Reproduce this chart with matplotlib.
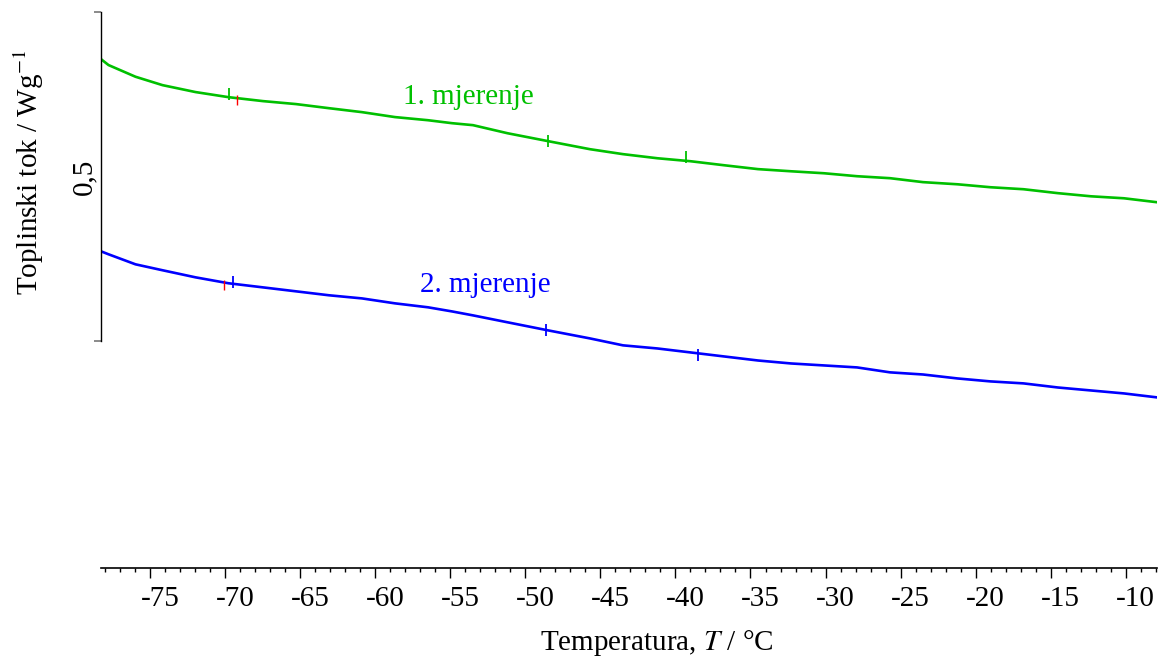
import matplotlib
matplotlib.use("Agg")
import matplotlib.pyplot as plt
from matplotlib.ticker import MultipleLocator, FuncFormatter
import matplotlib.transforms as mtransforms

plt.rcParams['font.family'] = ['Liberation Serif', 'DejaVu Serif']
plt.rcParams['mathtext.fontset'] = 'stix'
plt.rcParams['axes.unicode_minus'] = False

# temperatura / °C
temp = [-78.3, -77.8, -76.0, -74.2, -72.0, -69.8, -67.5, -65.3, -63.1, -60.9,
        -58.7, -56.5, -54.9, -53.5, -51.2, -48.5, -45.7, -43.5, -41.2, -39.0,
        -36.8, -34.5, -32.3, -30.1, -27.9, -25.7, -23.5, -21.2, -19.0, -16.8,
        -14.5, -12.3, -10.1, -7.9]
# toplinski tok / W g^-1
mjerenje1 = [0.5714, 0.5678, 0.5607, 0.5556, 0.5514, 0.5483, 0.5459, 0.5441, 0.5416, 0.5392,
             0.5362, 0.5343, 0.5325, 0.5313, 0.5264, 0.5216, 0.5167, 0.5137, 0.5112, 0.5094,
             0.5070, 0.5046, 0.5033, 0.5021, 0.5003, 0.4991, 0.4967, 0.4954, 0.4936, 0.4924,
             0.4900, 0.4881, 0.4869, 0.4845]
mjerenje2 = [0.4547, 0.4529, 0.4468, 0.4432, 0.4389, 0.4353, 0.4328, 0.4304, 0.4280, 0.4261,
             0.4231, 0.4207, 0.4182, 0.4158, 0.4116, 0.4067, 0.4018, 0.3976, 0.3957, 0.3933,
             0.3909, 0.3884, 0.3866, 0.3854, 0.3842, 0.3812, 0.3799, 0.3775, 0.3757, 0.3745,
             0.3720, 0.3702, 0.3684, 0.3660]

# oznake evaluacije na krivuljama (T, tok)
oznake1 = [(-69.8, 0.5500), (-48.5, 0.5216), (-39.3, 0.5120)]
oznake2 = [(-69.5, 0.4360), (-48.6, 0.4070), (-38.5, 0.3920)]
crveno = [(-69.2, 0.5465), (-70.1, 0.4345)]

zelena = '#00c000'
plava = '#0000ff'

fig = plt.figure(figsize=(11.71, 6.62), dpi=100)
ax = fig.add_axes([101 / 1171, 1 - 568 / 662, 1056 / 1171, 568 / 662])

ax.plot(temp, mjerenje1, color=zelena, lw=1.9)
ax.plot(temp, mjerenje2, color=plava, lw=1.9)

for t, v in oznake1:
    ax.plot(t, v, marker='|', color=zelena, ms=9, mew=1.3)
for t, v in oznake2:
    ax.plot(t, v, marker='|', color=plava, ms=9, mew=1.3)
for t, v in crveno:
    ax.plot(t, v, marker='|', color='red', ms=7, mew=1.0)

ax.text(-53.8, 0.5483, '1. mjerenje', color=zelena, fontsize=21, ha='center', va='center')
ax.text(-52.7, 0.4340, '2. mjerenje', color=plava, fontsize=21, ha='center', va='center')

ax.set_xlim(-78.3, -7.9)
ax.set_ylim(0.2624, 0.6073)

for s in ['top', 'right']:
    ax.spines[s].set_visible(False)
ax.spines['left'].set_bounds(0.4, 0.6)
ax.spines['left'].set_linewidth(1.0)
ax.spines['bottom'].set_linewidth(1.2)

ax.set_yticks([0.4, 0.6])
ax.set_yticklabels(['', ''])
ax.tick_params(axis='y', length=5, width=1.2, color='#777777')
ax.text(-0.004, 0.5, '0,5', transform=mtransforms.blended_transform_factory(ax.transAxes, ax.transData),
        rotation=90, ha='right', va='center', fontsize=21)

ax.xaxis.set_major_locator(MultipleLocator(5))
ax.xaxis.set_minor_locator(MultipleLocator(1))
ax.xaxis.set_major_formatter(FuncFormatter(lambda v, p: '%d' % round(v)))
ax.tick_params(axis='x', which='major', length=7, width=1.0, labelsize=21, pad=6)
ax.tick_params(axis='x', which='minor', length=3, width=1.0)
pomak = mtransforms.ScaledTranslation(10 / 100, 0, fig.dpi_scale_trans)
for lab in ax.get_xticklabels():
    lab.set_transform(lab.get_transform() + pomak)

ax.set_xlabel('Temperatura, $T$ / °C', fontsize=21)
ax.xaxis.set_label_coords(0.5265, -0.105)
ax.set_ylabel('Toplinski tok / Wg$^{-1}$', fontsize=21)
ax.yaxis.set_label_coords(-0.052, 0.697)

fig.savefig('out.png', dpi=100)
